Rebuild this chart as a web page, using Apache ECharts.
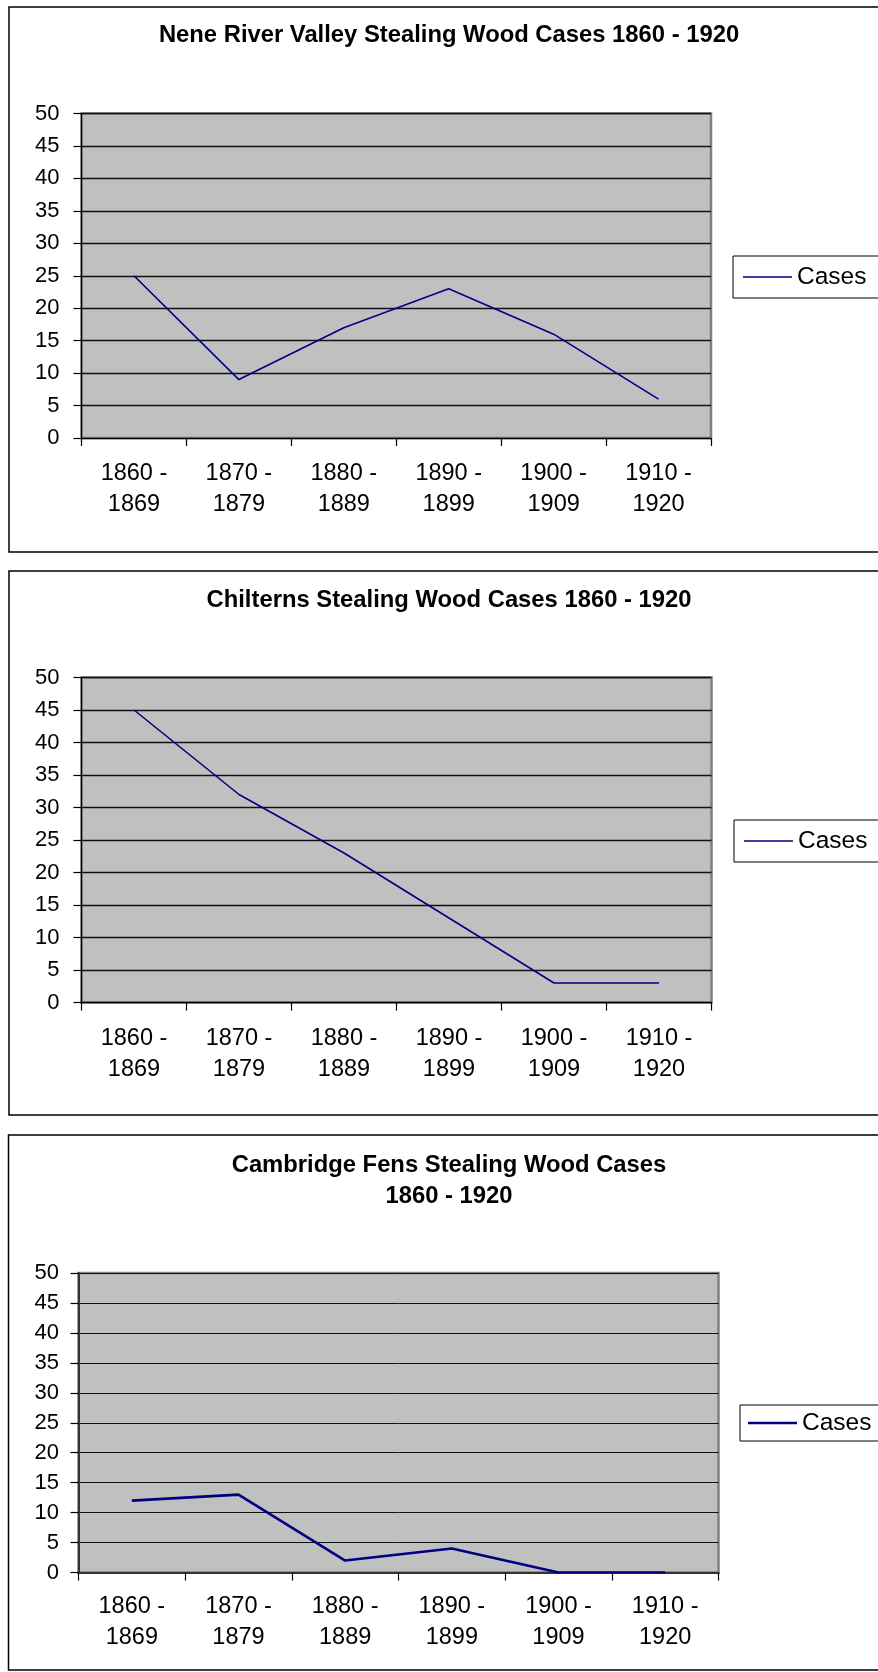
<!DOCTYPE html>
<html><head><meta charset="utf-8">
<script src="https://cdn.jsdelivr.net/npm/echarts@6/dist/echarts.min.js"></script>
<style>html,body{margin:0;padding:0;background:#fff}#c{width:878px;height:1672px}</style>
</head><body><div id="c"></div>
<script>
// ---- data ----
const categories = ['1860 - 1869', '1870 - 1879', '1880 - 1889', '1890 - 1899', '1900 - 1909', '1910 - 1920'];
const seriesName = 'Cases';
const titleNene = 'Nene River Valley Stealing Wood Cases 1860 - 1920';
const titleChilterns = 'Chilterns Stealing Wood Cases 1860 - 1920';
const titleCambridge = 'Cambridge Fens Stealing Wood Cases\n1860 - 1920';
const neneCases = [25, 9, 17, 23, 16, 6];
const chilternsCases = [45, 32, 23, 13, 3, 3];
const cambridgeCases = [12, 13, 2, 4, 0, 0];
const yMin = 0, yMax = 50, yStep = 5;

// ---- layout / style ----
const FONT = '"Liberation Sans", Arial, sans-serif';
const panels = [
  { title: titleNene, data: neneCases, box: [9, 7, 900, 545], titleTop: 19.5,
    grid: { left: 81.5, top: 113.5, width: 629.5, height: 324.5 },
    legend: { left: 733, top: 256, padV: 8, padL: 10 }, lw: 1.6, gridW: 1.3, axisW: 1.2, axisC: '#000', yMargin: 22, xMargin: 20.5 },
  { title: titleChilterns, data: chilternsCases, box: [9, 571, 900, 544], titleTop: 585,
    grid: { left: 81.5, top: 677.5, width: 630, height: 325 },
    legend: { left: 734, top: 820, padV: 8, padL: 10 }, lw: 1.6, gridW: 1.3, axisW: 1.2, axisC: '#000', yMargin: 22, xMargin: 20.5 },
  { title: titleCambridge, data: cambridgeCases, box: [8.5, 1135, 900, 535], titleTop: 1149.5,
    grid: { left: 78.5, top: 1273, width: 640, height: 299.5 },
    legend: { left: 740, top: 1405, padV: 5, padL: 8 }, lw: 2.6, gridW: 1, axisW: 2, axisC: '#333', yMargin: 19.5, xMargin: 19 }
];

const chart = echarts.init(document.getElementById('c'), null, { renderer: 'canvas' });
const option = {
  backgroundColor: '#fff',
  animation: false,
  title: [], legend: [], grid: [], xAxis: [], yAxis: [], series: [],
  graphic: []
};
panels.forEach((p, i) => {
  option.graphic.push({
    type: 'rect', z: -10, silent: true,
    shape: { x: p.box[0], y: p.box[1], width: p.box[2], height: p.box[3] },
    style: { fill: '#fff', stroke: '#000', lineWidth: 1.5 }
  });
  option.title.push({
    text: p.title, left: 449, top: p.titleTop, textAlign: 'center', padding: 0,
    textStyle: { fontFamily: FONT, fontSize: 23.8, fontWeight: 'bold', color: '#000', lineHeight: 31 }
  });
  option.grid.push(Object.assign({ show: true, backgroundColor: '#C0C0C0', borderColor: '#808080', borderWidth: 2.5, containLabel: false }, p.grid));
  option.xAxis.push({
    type: 'category', gridIndex: i, data: categories, boundaryGap: true,
    axisLine: { show: true, lineStyle: { color: p.axisC, width: p.axisW } },
    axisTick: { show: true, interval: 0, length: 8, inside: false, lineStyle: { color: '#000', width: 1.2 } },
    axisLabel: { interval: 0, margin: p.xMargin, color: '#000', fontFamily: FONT, fontSize: 23.5, lineHeight: 31,
      formatter: v => v.replace(' - ', ' -\n') },
    splitLine: { show: false }
  });
  option.yAxis.push({
    type: 'value', gridIndex: i, min: yMin, max: yMax, interval: yStep,
    axisLine: { show: true, lineStyle: { color: p.axisC, width: p.axisW } },
    axisTick: { show: true, length: 8, inside: false, lineStyle: { color: '#000', width: 1.2 } },
    axisLabel: { margin: p.yMargin, color: '#000', fontFamily: FONT, fontSize: 22 },
    splitLine: { show: true, lineStyle: { color: '#111', width: p.gridW } }
  });
  option.series.push({
    type: 'line', name: seriesName, xAxisIndex: i, yAxisIndex: i, data: p.data,
    symbol: 'none', showSymbol: false, color: '#000080',
    lineStyle: { color: '#000080', width: p.lw }, z: 5
  });
  option.legend.push({
    data: [seriesName], left: p.legend.left, top: p.legend.top, orient: 'vertical',
    padding: [p.legend.padV, 30, p.legend.padV, p.legend.padL],
    icon: 'rect', itemWidth: 49, itemHeight: p.lw, backgroundColor: '#fff', borderColor: '#000', borderWidth: 1,
    itemStyle: { color: '#000080', borderWidth: 0 },
    selectedMode: false,
    textStyle: { fontFamily: FONT, fontSize: 24.5, color: '#000', lineHeight: 26 }
  });
});
chart.setOption(option);
</script>
</body></html>
